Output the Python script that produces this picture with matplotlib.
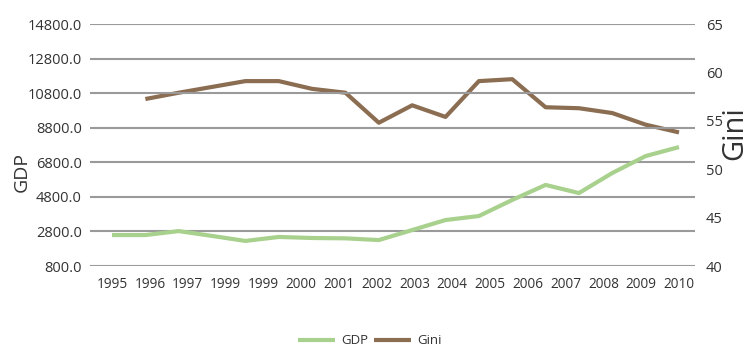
import matplotlib
matplotlib.use("Agg")
import matplotlib.pyplot as plt
import numpy as np

plt.rcParams['font.family'] = ['Open Sans', 'DejaVu Sans']

x_labels = ["1995", "1996", "1997", "1999", "1999", "2000", "2001", "2002",
            "2003", "2004", "2005", "2006", "2007", "2008", "2009", "2010"]
gdp = [2590, 2590, 2820, 2540, 2250, 2480, 2420, 2400, 2300, 2880, 3460,
       3690, 4620, 5490, 5020, 6180, 7160, 7680]
gini = [57.25, 57.9, 58.5, 59.1, 59.1, 58.3, 57.9, 54.8, 56.6, 55.4, 59.1,
        59.3, 56.4, 56.3, 55.8, 54.6, 53.8]

gdp_color = "#a9d18e"
gini_color = "#8b6d52"
grid_color = "#9a9a9a"
text_color = "#333333"

fig = plt.figure(figsize=(7.47, 3.49), dpi=100)
ax = fig.add_axes([90/747, 1-266/349, 605/747, 242/349])
ax2 = ax.twinx()

gx = np.arange(len(gdp))
nx = np.arange(len(gdp) - len(gini), len(gdp))
l1, = ax.plot(gx, gdp, color=gdp_color, lw=3, solid_capstyle='butt', label="GDP")
l2, = ax2.plot(nx, gini, color=gini_color, lw=3, solid_capstyle='butt', label="Gini")

ax.set_xlim(-0.66, len(gdp) - 1 + 0.48)
ax.set_ylim(800, 14800)
ax.set_yticks(np.arange(800, 14801, 2000))
ax.set_yticklabels([f"{v:.1f}" for v in np.arange(800, 14801, 2000)])
ax2.set_ylim(40, 65)
ax2.set_yticks([40, 45, 50, 55, 60, 65])

ax.set_xticks(np.linspace(0, len(gdp) - 1, len(x_labels)))
ax.set_xticklabels(x_labels)

for a in (ax, ax2):
    for s in a.spines.values():
        s.set_visible(False)
    a.tick_params(length=0, colors=text_color, labelsize=10.5)
ax.tick_params(axis='x', labelsize=9.8, pad=8)
ax.tick_params(axis='y', pad=6)
ax2.tick_params(axis='y', pad=8)
ax.grid(axis='y', color=grid_color, lw=1.5)
ax.set_axisbelow(True)
ax.set_zorder(ax2.get_zorder() + 1)
ax.patch.set_visible(False)

ax.set_ylabel("GDP", fontsize=14, color=text_color)
ax.yaxis.set_label_coords((31 - 90) / 605, (266 - 172) / 242)
ax2.set_ylabel("Gini", fontsize=21, color=text_color)
ax2.yaxis.set_label_coords((720 - 90) / 605, (266 - 133) / 242)

fig.legend(handles=[l1, l2], loc='center', bbox_to_anchor=(370/747, 1-341/349),
           ncol=2, frameon=False, fontsize=9.5, handlelength=2.8,
           columnspacing=0.4, handletextpad=0.5, labelcolor=text_color)

fig.savefig("out.png", dpi=100)
